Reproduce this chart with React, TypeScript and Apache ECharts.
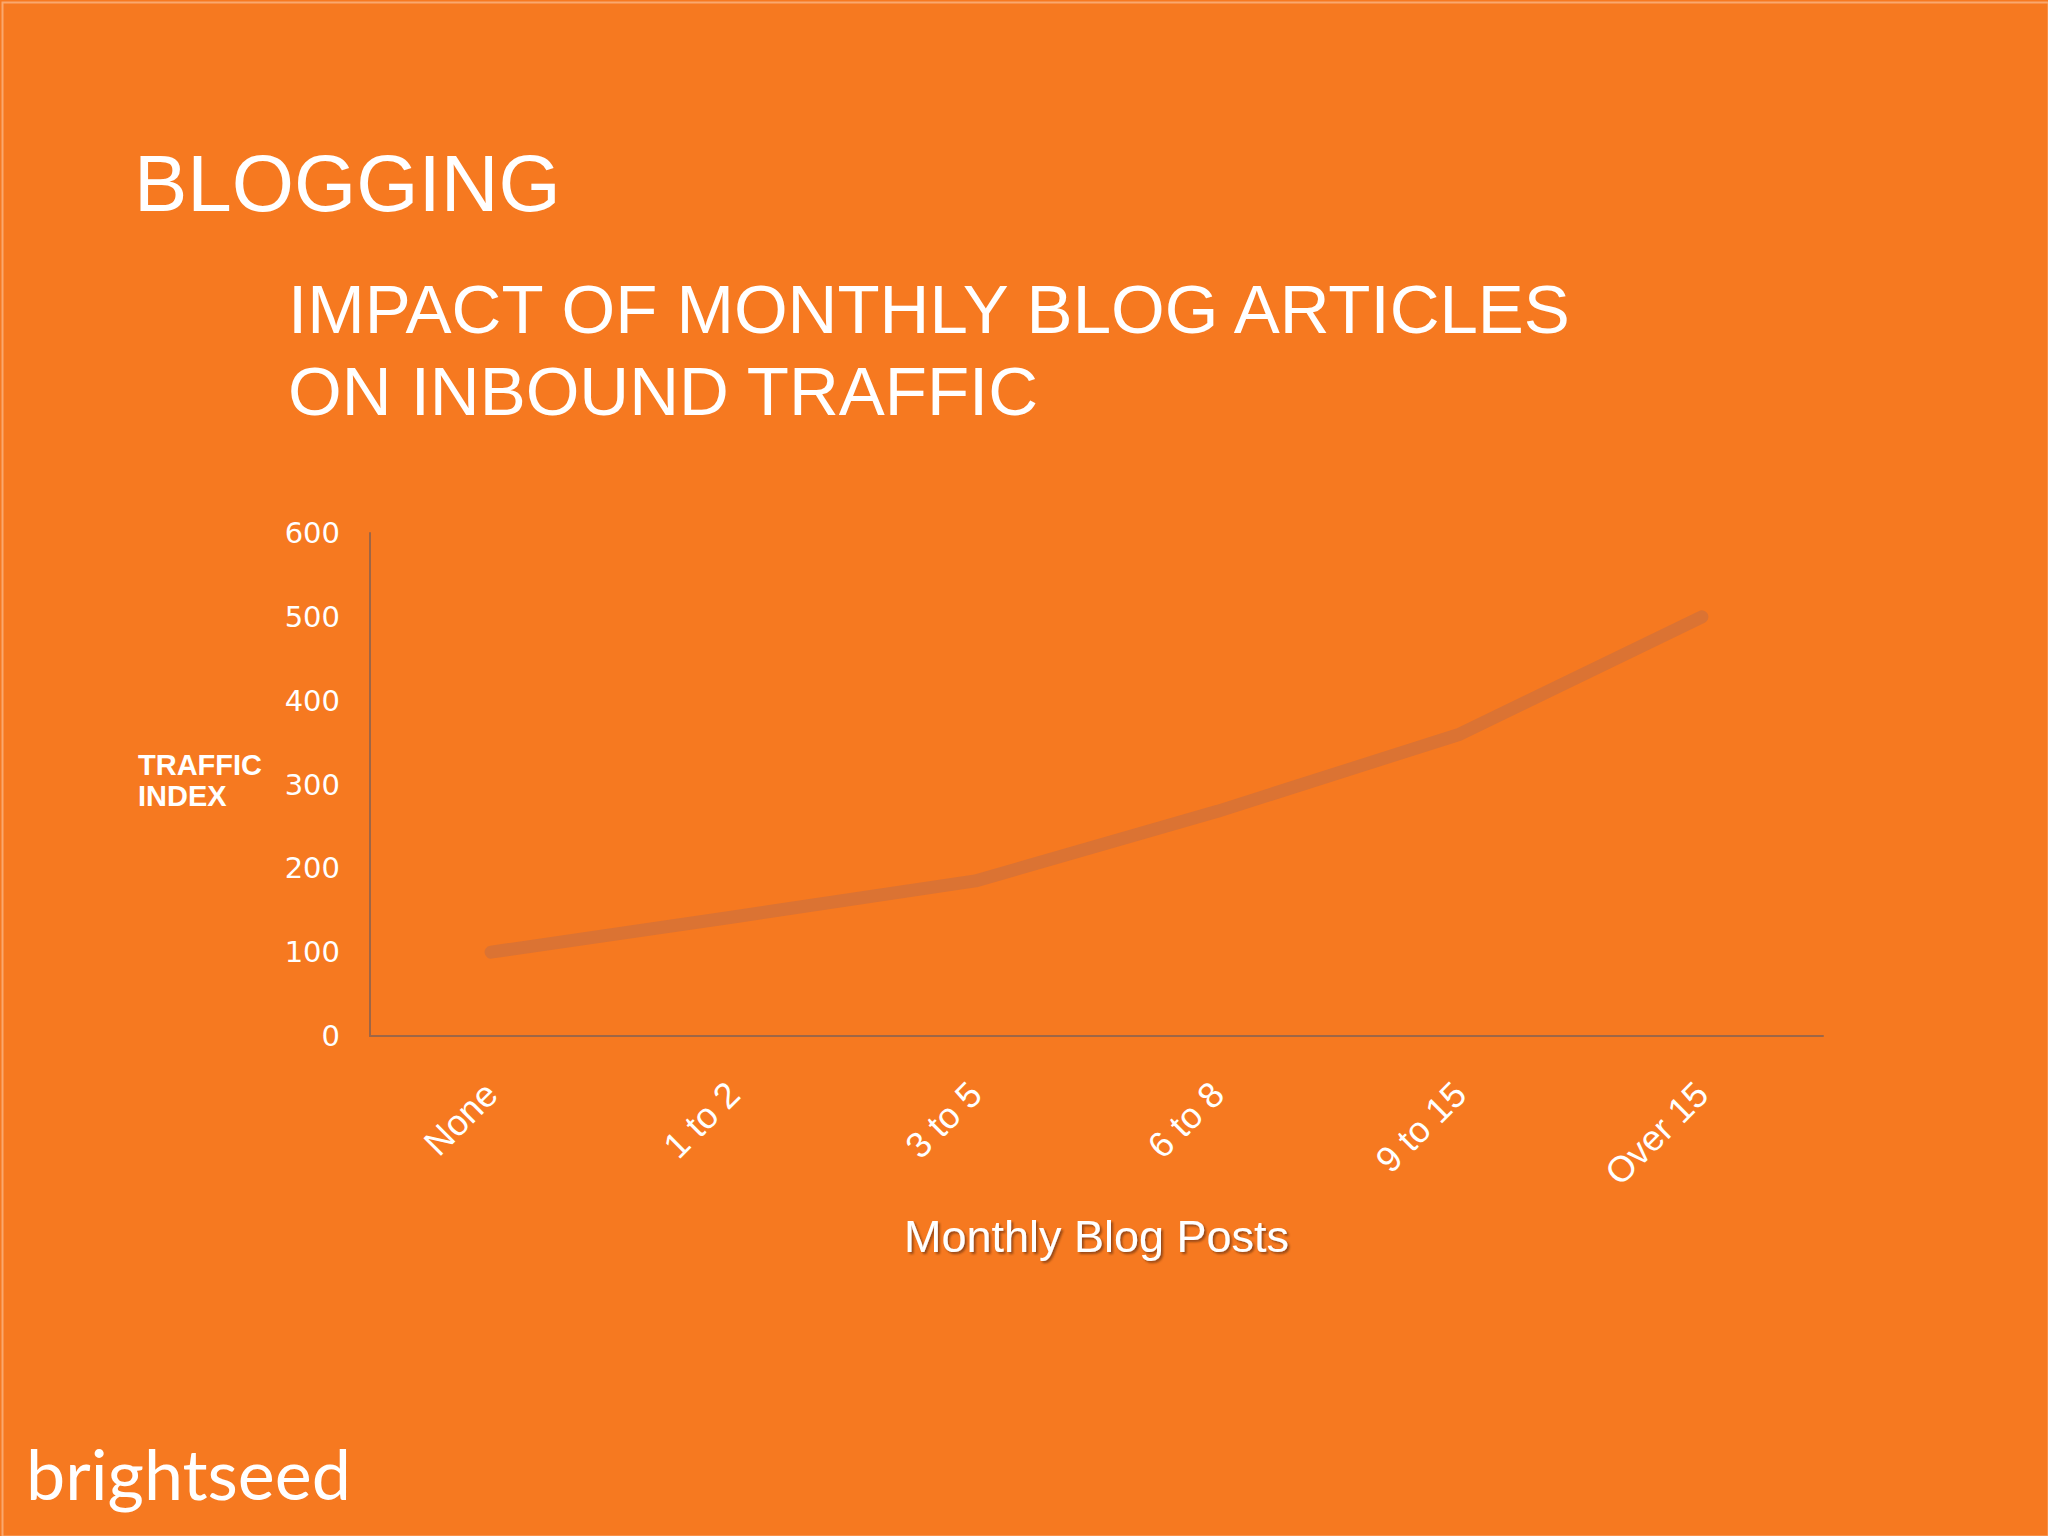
import React, { useEffect, useRef } from "react";
import * as echarts from "echarts";

const categories = ["None", "1 to 2", "3 to 5", "6 to 8", "9 to 15", "Over 15"];
const trafficIndex = [100, 142, 185, 268, 360, 500];
const yTicks = { min: 0, max: 600, interval: 100 };

const BG = "#F67920";

export default function App() {
  const ref = useRef<HTMLDivElement>(null);

  useEffect(() => {
    document.body.style.margin = "0";
    const chart = echarts.init(ref.current!, undefined, { renderer: "svg" });
    chart.setOption({
      animation: false,
      backgroundColor: BG,
      grid: { left: 370, right: 225, top: 533, bottom: 500, containLabel: false },
      xAxis: {
        type: "category",
        data: categories,
        boundaryGap: true,
        axisLine: { show: true, lineStyle: { color: "#9E6646", width: 2 } },
        axisTick: { show: false },
        axisLabel: {
          rotate: 45,
          margin: 52,
          color: "#ffffff",
          fontFamily: "Liberation Sans, Arial, sans-serif",
          fontSize: 36,
        },
        name: "Monthly Blog Posts",
        nameLocation: "middle",
        nameGap: 178,
        nameTextStyle: {
          color: "#ffffff",
          fontFamily: "Liberation Sans, Arial, sans-serif",
          fontSize: 45,
          textShadowColor: "rgba(110,50,10,0.7)",
          textShadowBlur: 2,
          textShadowOffsetX: 2,
          textShadowOffsetY: 2,
        },
      },
      yAxis: {
        type: "value",
        min: yTicks.min,
        max: yTicks.max,
        interval: yTicks.interval,
        splitLine: { show: false },
        axisTick: { show: false },
        axisLine: { show: true, lineStyle: { color: "#9E6646", width: 2 } },
        axisLabel: {
          margin: 30,
          color: "#ffffff",
          fontFamily: "DejaVu Sans, sans-serif",
          fontWeight: "normal",
          fontSize: 29,
        },
      },
      series: [
        {
          type: "line",
          data: trafficIndex,
          showSymbol: false,
          symbol: "none",
          smooth: false,
          lineStyle: { color: "#DB7333", width: 13, cap: "round", join: "round" },
        },
      ],
      graphic: [
        {
          type: "rect",
          left: 0,
          top: 0,
          shape: { x: 1, y: 1, width: 2046, height: 1534 },
          style: { fill: "none", stroke: "#F9A86E", lineWidth: 2 },
          silent: true,
        },
        {
          type: "text",
          x: 134,
          y: 143,
          style: {
            text: "BLOGGING",
            fill: "#ffffff",
            font: "80px 'Liberation Sans', Arial, sans-serif",
            verticalAlign: "top",
          },
        },
        {
          type: "text",
          x: 288,
          y: 275,
          style: {
            text: "IMPACT OF MONTHLY BLOG ARTICLES",
            fill: "#ffffff",
            font: "69px 'Liberation Sans', Arial, sans-serif",
            verticalAlign: "top",
          },
        },
        {
          type: "text",
          x: 288,
          y: 357,
          style: {
            text: "ON INBOUND TRAFFIC",
            fill: "#ffffff",
            font: "69px 'Liberation Sans', Arial, sans-serif",
            verticalAlign: "top",
          },
        },
        {
          type: "text",
          x: 138,
          y: 749,
          style: {
            text: "TRAFFIC\nINDEX",
            fill: "#ffffff",
            font: "bold 29px 'Liberation Sans', Arial, sans-serif",
            lineHeight: 31,
            verticalAlign: "top",
          },
        },
        {
          type: "text",
          x: 26,
          y: 1438,
          style: {
            text: "brightseed",
            fill: "#ffffff",
            font: "70px Lato, 'Open Sans', sans-serif",
            verticalAlign: "top",
          },
        },
      ],
    });
    return () => chart.dispose();
  }, []);

  return <div ref={ref} style={{ position: "absolute", left: 0, top: 0, width: 2048, height: 1536 }} />;
}
